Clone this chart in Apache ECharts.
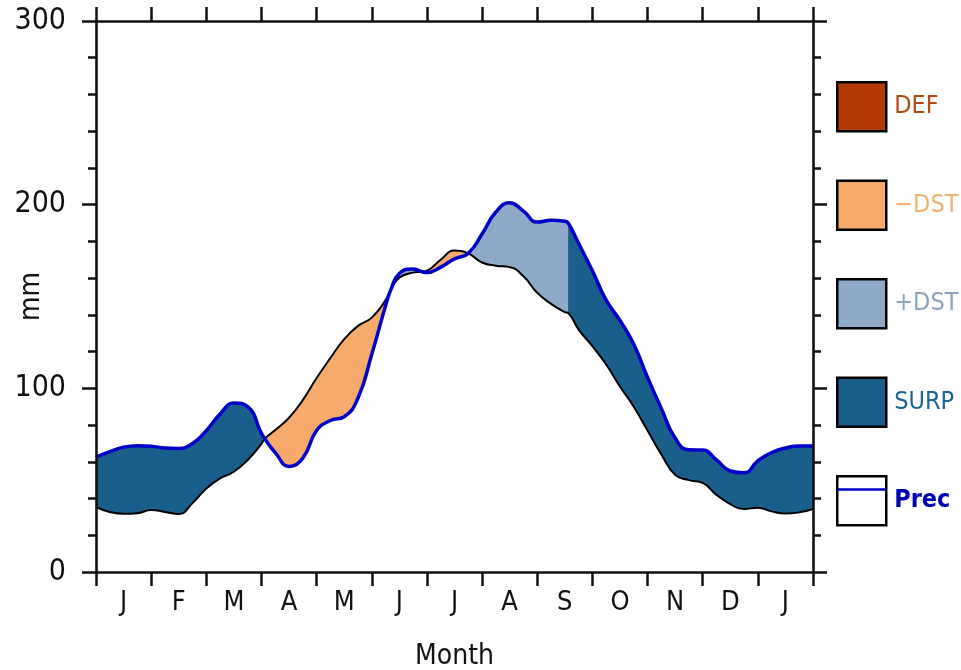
<!DOCTYPE html>
<html>
<head>
<meta charset="utf-8">
<style>
  html, body { margin: 0; padding: 0; background: #fff; }
  #chart-container { width: 961px; height: 670px; }
</style>
<script src="https://cdn.jsdelivr.net/npm/echarts@6/dist/echarts.min.js"></script>
</head>
<body>
<div id="chart-container"></div>
<script>
var dom = document.getElementById("chart-container");
var myChart = echarts.init(dom, null, { renderer: "canvas" });

// month position (0 = start of Jan, 13 = end of the second Jan)
const months = [0, 0.25, 0.5, 0.75, 1, 1.25, 1.5, 1.75, 2, 2.25, 2.5, 2.75, 3, 3.06,
  3.25, 3.5, 3.75, 4, 4.25, 4.5, 4.75, 5, 5.25, 5.35, 5.5, 5.75, 5.91, 6, 6.25, 6.5,
  6.75, 7, 7.25, 7.5, 7.75, 8, 8.25, 8.5, 8.56, 8.56, 8.75, 9, 9.25, 9.5, 9.75, 10,
  10.25, 10.5, 10.75, 11, 11.25, 11.5, 11.75, 12, 12.25, 12.5, 12.75, 13];

// precipitation (blue line), mm
const prec = [62.5, 65.5, 68, 68.8, 68.5, 67.5, 67.3, 70, 77, 86, 92, 90, 75.5, 72.5,
  65, 57.5, 62, 77, 82.5, 84.5, 94.7, 118.5, 145, 154, 162.5, 165, 163.5, 163, 166, 170.5,
  173.5, 184, 196, 201, 196.5, 190.5, 191.5, 191, 190, 190, 179, 164, 148, 137, 124, 106,
  89, 73, 66.5, 66.4, 61, 55, 54, 60.5, 65, 67.5, 68.6, 68.6];

// potential evapotranspiration (black line), mm
const pet = [35.4, 32.7, 31.7, 32, 33.8, 32.7, 31.6, 37.5, 45.5, 51, 54.6, 61, 69.8, 72.5,
  77.3, 84, 93.6, 105.6, 116.5, 126.8, 134, 138.5, 148, 154, 160.3, 163, 163.5, 164, 170, 175,
  173.5, 168.5, 166.8, 166, 161, 152, 146, 141.5, 141, 141, 132, 123, 113, 101, 90, 77,
  64, 53, 50, 48.5, 42, 37, 34.3, 35, 33, 31.8, 32.5, 34.3];

const monthLabels = ["J", "F", "M", "A", "M", "J", "J", "A", "S", "O", "N", "D", "J"];
const rechargeStart = 5;
const rechargeEnd = 8.56;

const FONT = "'DejaVu Sans Condensed', 'Liberation Sans Narrow', sans-serif";
const AXIS = "#111";

// split the gap between the curves into classes, then build cumulative layers
// (base -> +SURP -> +(-DST) -> +(+DST)); drawn top layer first, each filled to 0
var layerBase = [], layerSurp = [], layerUtil = [], layerRech = [];
months.forEach(function (m, i) {
  var p = prec[i], e = pet[i];
  var lo = Math.min(p, e);
  var d = Math.abs(p - e);
  var s = 0, u = 0, r = 0;
  if (p >= e) {
    var inRecharge = m > rechargeStart &&
      (m < rechargeEnd || (m === rechargeEnd && months[i + 1] === rechargeEnd));
    if (inRecharge) r = d; else s = d;
  } else {
    u = d;
  }
  layerBase.push([m, lo]);
  layerSurp.push([m, lo + s]);
  layerUtil.push([m, lo + s + u]);
  layerRech.push([m, lo + s + u + r]);
});

// the curves themselves do not need the doubled class-boundary point
function curve(values) {
  var out = [];
  months.forEach(function (m, i) {
    if (i > 0 && months[i - 1] === m) return;
    out.push([m, values[i]]);
  });
  return out;
}

const SMOOTH = 0.5;

function layer(name, data, color) {
  return {
    name: name,
    type: "line",
    data: data,
    smooth: SMOOTH,
    showSymbol: false,
    symbol: "none",
    color: color,
    itemStyle: { color: color },
    lineStyle: { width: 0, opacity: 0 },
    areaStyle: { color: color, opacity: 1 },
    silent: true
  };
}

var axisLine = { show: true, onZero: false, lineStyle: { color: AXIS, width: 2.6 } };
var tickStyle = { color: AXIS, width: 2.5 };

var option = {
  animation: false,
  backgroundColor: "#fff",
  grid: { left: 96, right: 148, top: 21, bottom: 98, containLabel: false, outerBoundsMode: "none" },
  xAxis: [
    { type: "value", min: 0, max: 13, show: false },
    {
      type: "category",
      data: monthLabels,
      position: "bottom",
      boundaryGap: true,
      z: 10,
      axisLine: axisLine,
      axisTick: { show: true, interval: 0, length: 14, lineStyle: tickStyle },
      axisLabel: { interval: 0, margin: 17, fontSize: 27, fontFamily: FONT, color: AXIS },
      splitLine: { show: false },
      name: "Month",
      nameLocation: "middle",
      nameGap: 71,
      nameMoveOverlap: false,
      nameTextStyle: { fontSize: 28, fontFamily: FONT, color: AXIS }
    },
    {
      type: "category",
      data: monthLabels,
      position: "top",
      boundaryGap: true,
      z: 10,
      axisLine: axisLine,
      axisTick: { show: true, interval: 0, length: 14, lineStyle: tickStyle },
      axisLabel: { show: false },
      splitLine: { show: false }
    }
  ],
  yAxis: [
    {
      type: "value",
      position: "left",
      min: 0,
      max: 300,
      interval: 100,
      z: 10,
      axisLine: axisLine,
      axisTick: { show: true, length: 14, lineStyle: tickStyle },
      minorTick: { show: true, splitNumber: 5, length: 8, lineStyle: tickStyle },
      axisLabel: { margin: 30, fontSize: 30, fontFamily: FONT, color: AXIS },
      splitLine: { show: false },
      name: "mm",
      nameLocation: "middle",
      nameGap: 50,
      nameMoveOverlap: false,
      nameTextStyle: { fontSize: 28, fontFamily: FONT, color: AXIS }
    },
    {
      type: "value",
      position: "right",
      min: 0,
      max: 300,
      interval: 100,
      z: 10,
      axisLine: axisLine,
      axisTick: { show: true, length: 14, lineStyle: tickStyle },
      minorTick: { show: true, splitNumber: 5, length: 8, lineStyle: tickStyle },
      axisLabel: { show: false },
      splitLine: { show: false }
    }
  ],
  legend: [
    {
      orient: "vertical",
      left: 836,
      top: 81,
      padding: 0,
      itemWidth: 49,
      itemHeight: 49,
      itemGap: 47,
      selectedMode: false,
      itemStyle: { borderColor: "#000", borderWidth: 2.5 },
      textStyle: { fontSize: 25, fontFamily: FONT, padding: [0, 0, 0, 3] },
      data: [
        { name: "DEF", icon: "rect", textStyle: { color: "#b24a12" } },
        { name: "\u2212DST", icon: "rect", textStyle: { color: "#f2b070" } },
        { name: "+DST", icon: "rect", textStyle: { color: "#8ba3bd" } },
        { name: "SURP", icon: "rect", textStyle: { color: "#1a6496" } },
        { name: "Prec", icon: "rect", itemStyle: { color: "#fff" },
          textStyle: { color: "#0000b4", fontWeight: "bold" } }
      ]
    },
    {
      orient: "vertical",
      left: 836,
      top: 465,
      padding: 0,
      itemWidth: 49,
      itemHeight: 49,
      selectedMode: false,
      formatter: function () { return ""; },
      itemStyle: { opacity: 0 },
      lineStyle: { color: "#0000c8", width: 2.5 },
      data: [{ name: "Prec" }]
    }
  ],
  series: [
    layer("+DST", layerRech, "#8eaac8"),
    layer("\u2212DST", layerUtil, "#f6ab6c"),
    layer("SURP", layerSurp, "#1a5f8c"),
    layer("base", layerBase, "#ffffff"),
    {
      name: "DEF",
      type: "line",
      data: [],
      color: "#b23a04",
      itemStyle: { color: "#b23a04" },
      areaStyle: { color: "#b23a04" },
      silent: true
    },
    {
      name: "PET",
      type: "line",
      data: curve(pet),
      smooth: SMOOTH,
      showSymbol: false,
      symbol: "none",
      lineStyle: { color: "#000", width: 2 },
      silent: true
    },
    {
      name: "Prec",
      type: "line",
      data: curve(prec),
      smooth: SMOOTH,
      showSymbol: false,
      symbol: "none",
      color: "#0000c8",
      lineStyle: { color: "#0000c8", width: 3.5 },
      silent: true
    }
  ]
};

myChart.setOption(option);
window.addEventListener("resize", myChart.resize);
</script>
</body>
</html>
